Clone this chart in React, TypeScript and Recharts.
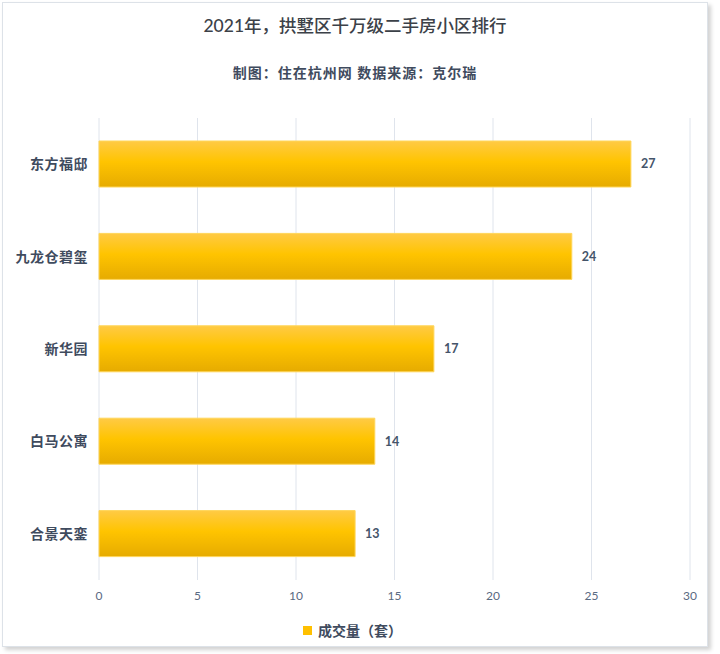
import { Bar, BarChart, CartesianGrid, LabelList, Legend, XAxis, YAxis } from 'recharts'

const communities = ['东方福邸', '九龙仓碧玺', '新华园', '白马公寓', '合景天銮']
const dealCounts = [27, 24, 17, 14, 13]
const xTicks = [0, 5, 10, 15, 20, 25, 30]

const seriesName = '成交量（套）'
const chartTitle = '2021年，拱墅区千万级二手房小区排行'
const chartSubtitle = '制图：住在杭州网 数据来源：克尔瑞'

const data = communities.map((name, i) => ({ name, value: dealCounts[i] }))

const FONT = 'Lato, "Noto Sans CJK SC", sans-serif'

function LegendContent() {
  return (
    <div
      style={{
        display: 'flex',
        justifyContent: 'center',
        alignItems: 'center',
        height: 20,
        fontFamily: FONT,
        fontSize: 14,
        fontWeight: 700,
        color: '#3f4b5e',
      }}
    >
      <span
        style={{
          display: 'inline-block',
          width: 9,
          height: 9,
          background: '#ffc000',
          marginRight: 6,
        }}
      />
      {seriesName}
    </div>
  )
}

export default function App() {
  return (
    <div
      style={{
        position: 'absolute',
        left: 0,
        top: 0,
        width: 720,
        height: 654,
        background: '#fff',
        fontFamily: FONT,
      }}
    >
      <div
        style={{
          position: 'absolute',
          left: 2,
          top: 2,
          width: 704,
          height: 643,
          border: '1px solid #dde2e8',
          boxShadow: '3px 3px 4px rgba(0,0,0,0.18)',
        }}
      />
      <div
        style={{
          position: 'absolute',
          top: 12,
          left: 0,
          width: 710,
          textAlign: 'center',
          fontSize: 17.5,
          fontWeight: 500,
          color: '#3c4148',
        }}
      >
        {chartTitle}
      </div>
      <div
        style={{
          position: 'absolute',
          top: 62,
          left: 0,
          width: 710,
          textAlign: 'center',
          fontSize: 14,
          fontWeight: 700,
          letterSpacing: 1,
          color: '#3f4b5e',
        }}
      >
        {chartSubtitle}
      </div>
      <div style={{ position: 'absolute', left: 0, top: 0 }}>
        <BarChart
          width={720}
          height={654}
          data={data}
          layout='vertical'
          margin={{ top: 118, right: 30, bottom: 24, left: 0 }}
        >
          <defs>
            <linearGradient id='barGold' x1='0' y1='0' x2='0' y2='1'>
              <stop offset='0%' stopColor='#ffca45' />
              <stop offset='45%' stopColor='#ffc400' />
              <stop offset='100%' stopColor='#e6ab00' />
            </linearGradient>
          </defs>
          <CartesianGrid horizontal={false} stroke='#dfe4ec' />
          <XAxis
            type='number'
            domain={[0, 30]}
            ticks={xTicks}
            height={30}
            tickLine={false}
            axisLine={false}
            tickMargin={5}
            tick={{ fill: '#5a6a82', fontSize: 12, fontFamily: FONT }}
          />
          <YAxis
            type='category'
            dataKey='name'
            width={99}
            tickLine={false}
            axisLine={false}
            tickMargin={5}
            tick={{ fill: '#3f4b5e', fontSize: 14, fontWeight: 700, fontFamily: FONT, letterSpacing: 0.5 }}
          />
          <Legend
            verticalAlign='bottom'
            content={<LegendContent />}
            wrapperStyle={{ top: 620, left: 0, width: 705 }}
          />
          <Bar
            dataKey='value'
            name={seriesName}
            fill='url(#barGold)'
            stroke='#ffd659'
            strokeWidth={1}
            barSize={46}
            isAnimationActive={false}
          >
            <LabelList
              dataKey='value'
              position='right'
              offset={10}
              fill='#44546a'
              fontSize={12.5}
              fontWeight={700}
              fontFamily={FONT}
            />
          </Bar>
        </BarChart>
      </div>
    </div>
  )
}
